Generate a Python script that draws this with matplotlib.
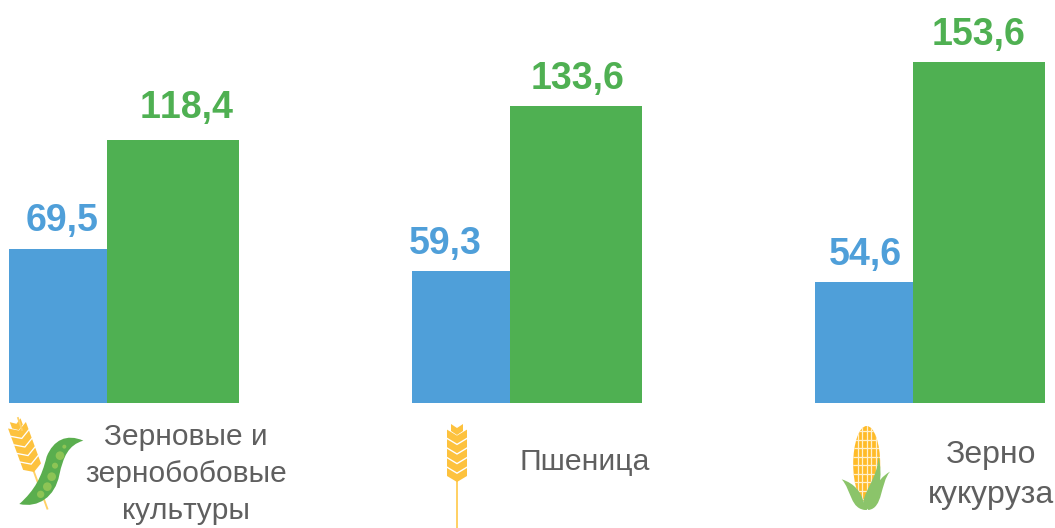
import matplotlib
matplotlib.use("Agg")
import matplotlib.pyplot as plt
import numpy as np
from matplotlib.patches import Polygon, Circle, Ellipse, PathPatch
from matplotlib.path import Path

plt.rcParams['font.family'] = ['Liberation Sans', 'DejaVu Sans']
plt.rcParams['text.kerning_factor'] = 20

categories = ["Зерновые и\nзернобобовые\nкультуры", "Пшеница", "Зерно\nкукуруза"]
values_blue = [69.5, 59.3, 54.6]
values_green = [118.4, 133.6, 153.6]

# hand placement of the value labels relative to their bars (pixels)
blue_dx = [4, -16, 1]
blue_dy = [10, 9, 9]
green_dx = [14, 2, 0]
green_dy = [14, 9, 9]

BLUE = "#4F9FD9"
GREEN = "#4FB052"
GRAY = "#5F5F5F"
W, H = 1055, 528
fig = plt.figure(figsize=(W/100, H/100), dpi=100, facecolor="white")

# main chart: x units = groups, y units = data values
base_px, scale = 403, 2.22
group_px, first_px = 403, 9
ax = fig.add_axes([0, (H-base_px)/H, 1, base_px/H])
ax.set_xlim(-first_px/group_px, (W-first_px)/group_px)
ax.set_ylim(0, base_px/scale)
ax.axis("off")
bw = 132/group_px
off = 98/group_px
x = np.arange(len(categories))
ax.bar(x, values_blue, width=bw, align="edge", color=BLUE, zorder=2)
ax.bar(x+off, values_green, width=bw, align="edge", color=GREEN, zorder=3)
for i in x:
    ax.annotate(f"{values_blue[i]:.1f}".replace(".", ","), (i+off/2, values_blue[i]),
                xytext=(blue_dx[i], blue_dy[i]), textcoords="offset pixels", ha="center", va="bottom",
                color=BLUE, fontsize=27, fontweight="bold", annotation_clip=False)
    ax.annotate(f"{values_green[i]:.1f}".replace(".", ","), (i+off+bw/2, values_green[i]),
                xytext=(green_dx[i], green_dy[i]), textcoords="offset pixels", ha="center", va="bottom",
                color=GREEN, fontsize=27, fontweight="bold", annotation_clip=False)

# overlay in pixel coordinates for category captions and decorative icons
ov = fig.add_axes([0, 0, 1, 1], zorder=5)
ov.set_xlim(0, W); ov.set_ylim(H, 0); ov.axis("off"); ov.patch.set_alpha(0)

label_pos = [(186, 474), (585, 462), (991, 475)]
label_size = [21.5, 21.7, 23]
label_space = [1.42, 1.2, 1.42]
for (lx, ly), c, fs, ls in zip(label_pos, categories, label_size, label_space):
    ov.text(lx, ly, c, ha="center", va="center", color=GRAY, fontsize=fs, linespacing=ls)

def wheat(px, py, ang, stem_len, s=1.0):
    """px,py = base of head; ang degrees of tilt"""
    a = np.deg2rad(ang)
    R = np.array([[np.cos(a), -np.sin(a)], [np.sin(a), np.cos(a)]])
    T = lambda pts: (R @ (np.array(pts, float)*s).T).T + [px, py]
    ov.add_patch(Polygon(T([(-1, -3), (1, -3), (1, stem_len), (-1, stem_len)]),
                         fc="#FFD166", ec="none"))
    for k in range(5):
        y = -9.6*k
        ov.add_patch(Polygon(T([(0, y), (10, y-6), (10, y-14), (0, y-8), (-10, y-14), (-10, y-6)]),
                             fc="#FDC23E", ec="none"))
    y = -9.6*5
    ov.add_patch(Polygon(T([(0, y+1), (6, y-3), (6, y-10), (0, y-6), (-6, y-10), (-6, y-3)]),
                         fc="#FDC23E", ec="none"))

wheat(457, 482, 0, 46)
wheat(34, 472, -20, 42, 0.95)
ov.add_line(plt.Line2D([18, 22], [418, 430], color="#FFD166", lw=1.3))

# pea pod
Z = lambda p: (p[0]/3, 390+p[1]/3)
verts = [(250,152),(200,130),(160,150),(140,200),(125,260),(105,300),(58,342),
         (115,355),(165,320),(178,255),(190,200),(205,165),(250,152)]
codes = [Path.MOVETO]+[Path.CURVE4]*12
ov.add_patch(PathPatch(Path([Z(v) for v in verts], codes), fc="#5AAE4E", ec="none", zorder=3))
for p, r in [((193,170),6),((180,197),13),((165,227),9),((155,260),13),((142,290),13),((122,313),11)]:
    ov.add_patch(Circle(Z(p), r/3, fc="#8DC455", ec="none", zorder=4))

# corn
cob = Ellipse((866.7, 464), 27, 76, fc="#FFBB28", ec="none", zorder=3)
ov.add_patch(cob)
for gx in [858, 862, 866.7, 871, 875.5]:
    l, = ov.plot([gx, gx], [425, 503], color="#FFF0CC", lw=0.9, zorder=3.5)
    l.set_clip_path(cob)
for gy in np.arange(431, 503, 8.5):
    l, = ov.plot([850, 885], [gy, gy], color="#FFF0CC", lw=0.9, zorder=3.5)
    l.set_clip_path(cob)
Zc = lambda p: (800+p[0]/3, 390+p[1]/3)
husk = [
    ([(200,360),(150,360),(155,300),(125,268),(165,280),(185,310),(190,335),(200,360)]),
    ([(190,358),(180,310),(235,270),(235,198),(250,260),(240,310),(200,360),(190,358)]),
    ([(205,360),(250,355),(240,280),(270,245),(225,270),(215,320),(195,345),(205,360)]),
]
for h in husk:
    codes = [Path.MOVETO]+[Path.CURVE4]*6+[Path.CLOSEPOLY]
    ov.add_patch(PathPatch(Path([Zc(v) for v in h], codes), fc="#8BC46A", ec="none", zorder=4))

fig.savefig("out.png", dpi=100, facecolor="white")
